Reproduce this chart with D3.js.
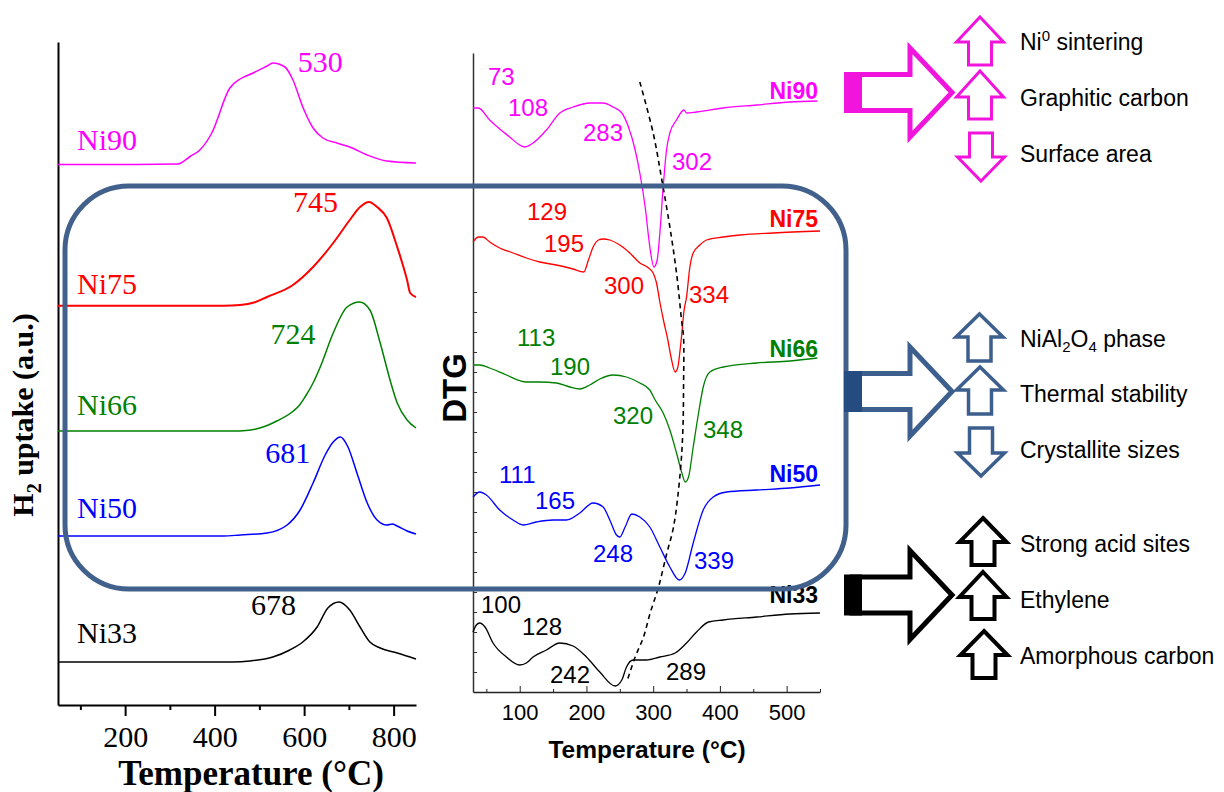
<!DOCTYPE html>
<html>
<head>
<meta charset="utf-8">
<script src="https://cdn.jsdelivr.net/npm/d3@7"></script>
<style>
  html, body { margin: 0; padding: 0; background: #fff; }
  svg { display: block; }
</style>
</head>
<body>
<svg id="fig" width="1224" height="792"></svg>
<script>
// ---------------- data ----------------
const samples = ["Ni90", "Ni75", "Ni66", "Ni50", "Ni33"];
const sampleColors = ["#ff00ff", "#ff0000", "#008000", "#0000ff", "#000000"];

// H2-TPR: reduction peak maxima (°C)
const tprPeaks = [530, 745, 724, 681, 678];
// vertical offsets of each trace (a.u.)
const tprOffsets = [540.5, 399.3, 274, 169, 43];
// H2 uptake above baseline: [temperature °C, signal a.u.]
const tprNi90 = [[50,0],[200,0],[318,0.5],[345,8],[367,14.5],[393,31],[434,76.5],[457,85.5],[486,91.5],[517,98.5],[530,101.5],[557,97.5],[575,84.5],[597,57.5],[620,36.5],[642,26.5],[673,21.5],[702,17.5],[741,9.5],[785,3.5],[850,1.5]];
const tprNi75 = [[50,0],[300,0],[420,0],[457,0.7],[490,3.5],[517,8.7],[575,20.7],[620,38.7],[665,62.7],[702,85.7],[725,98.7],[745,103.7],[763,98.7],[785,87.7],[808,58.7],[830,25.7],[837,12.7],[850,8.7]];
const tprNi66 = [[50,0],[300,0],[440,0],[470,0.5],[501,3],[539,10],[576,20],[590,26],[602,34],[620,48],[636,64],[665,98],[696,124],[724,129],[747,121],[770,88],[792,51],[808,28],[830,11],[850,3]];
const tprNi50 = [[50,0],[300,0],[420,0],[457,1],[517,3],[562,11],[591,26],[620,53],[647,81],[665,94],[681,99],[698,89],[718,63],[741,33],[763,16],[785,11],[797,12],[808,10],[830,5],[850,2]];
const tprNi33 = [[50,0],[300,0],[440,0],[479,1],[530,5],[568,12],[597,20],[629,35],[653,54],[678,60],[702,52],[725,35],[747,20],[770,14],[808,9],[850,3]];
const tprSeries = [tprNi90, tprNi75, tprNi66, tprNi50, tprNi33];
const tprTicks = [200, 400, 600, 800];
const tprMinorTicks = [100, 300, 500, 700];

// DTG of spent catalysts: [temperature °C, DTG a.u. (stacked)]
const dtgNi90 = [[30,584],[38,584],[55,572],[70,563],[85,555],[100,547],[108,545],[120,549],[140,562],[160,579],[180,585],[205,589],[225,589],[240,585],[253,579],[263,565],[273,542],[280,519],[288,485],[295,445],[301,425],[306,432],[310,459],[315,505],[320,542],[325,559],[335,572],[346,582],[350,579],[365,580],[405,584],[455,587],[505,590],[546,591]];
const dtgNi75 = [[30,450],[38,455],[45,455],[55,450],[70,444],[90,439],[110,434],[130,430],[155,427],[180,423],[196,420],[203,432],[210,445],[218,452],[225,453],[235,452],[250,447],[265,439],[280,429],[293,424],[300,419],[305,409],[310,390],[316,370],[322,352],[327,334],[333,320],[337,325],[340,340],[343,359],[346,380],[350,395],[355,425],[360,439],[370,447],[380,452],[405,455],[430,457],[480,459],[550,461]];
const dtgNi66 = [[30,327],[40,327],[55,324],[80,317],[110,310],[130,310],[155,309],[175,305],[190,303],[205,307],[220,313],[240,317],[260,315],[280,309],[295,302],[303,292],[315,279],[325,262],[335,239],[343,219],[348,210],[353,215],[360,245],[368,279],[375,305],[385,320],[405,325],[455,329],[505,331],[546,334]];
const dtgNi50 = [[30,195],[40,200],[50,197],[70,182],[90,172],[105,167],[125,170],[150,172],[170,172],[190,179],[210,189],[225,185],[235,172],[245,157],[250,155],[258,165],[268,178],[280,175],[295,165],[310,145],[325,125],[339,112],[348,119],[360,149],[375,182],[390,195],[410,200],[455,202],[505,204],[550,207]];
const dtgNi33 = [[30,60],[35,67],[40,69],[48,65],[60,49],[80,35],[100,27],[110,29],[120,35],[140,42],[160,49],[180,46],[200,35],[220,20],[243,6],[253,12],[260,25],[270,32],[290,32],[310,35],[333,39],[350,49],[365,60],[383,70],[405,72],[455,75],[505,78],[550,79]];
const dtgSeries = [dtgNi90, dtgNi75, dtgNi66, dtgNi50, dtgNi33];
// peak temperatures written beside each DTG trace (°C)
const dtgPeakText = [["73","108","283","302"],["129","195","300","334"],["113","190","320","348"],["111","165","248","339"],["100","128","242","289"]];
// shift of the main oxidation peak across the series
const dtgShiftGuide = [[280,610],[300,559],[313,512],[325,465],[335,419],[343,369],[345.5,355],[345.5,305],[344.5,262],[340.5,219],[330.5,165],[320.5,139],[308,105],[295.5,79],[285.5,55],[273,35],[260.5,10]];
const dtgTicks = [100, 200, 300, 400, 500];
const dtgMinorTicks = [50, 150, 250, 350, 450, 550];
const dtgYTicks = d3.range(20, 420, 20);

// property trends per catalyst group
const groupItems = [
  [["Ni", "0", " sintering", "up"], ["Graphitic carbon", "", "", "up"], ["Surface area", "", "", "down"]],
  [["NiAl2O4 phase", "", "", "up"], ["Thermal stability", "", "", "up"], ["Crystallite sizes", "", "", "down"]],
  [["Strong acid sites", "", "", "up"], ["Ethylene", "", "", "up"], ["Amorphous carbon", "", "", "up"]]
];
const groupColors = ["#f014dc", "#3d5f8e", "#000000"];
const groupFill = ["#f014dc", "#244c80", "#000000"];

// ---------------- drawing ----------------
const svg = d3.select("#fig");
const SERIF = "'Liberation Serif','Times New Roman',serif";
const SANS = "'Liberation Sans',Arial,sans-serif";

svg.append("rect").attr("width", 1224).attr("height", 792).attr("fill", "#fff");

// ===== left panel: H2-TPR =====
const xL = d3.scaleLinear().domain([50, 850]).range([58, 416]);
const yL = d3.scaleLinear().domain([0, 663]).range([705, 42]);
const gL = svg.append("g");

gL.append("g").attr("transform", "translate(58,0)")
  .call(d3.axisLeft(yL).tickValues([]).tickSizeOuter(0))
  .select(".domain").attr("stroke", "#000").attr("stroke-width", 2);

const axL = gL.append("g").attr("transform", "translate(0,705)")
  .call(d3.axisBottom(xL).tickValues(tprTicks).tickSize(11).tickSizeOuter(0).tickPadding(10));
axL.select(".domain").attr("stroke", "#000").attr("stroke-width", 2);
axL.selectAll(".tick line").attr("stroke", "#000").attr("stroke-width", 2);
axL.selectAll(".tick text").attr("font-family", SERIF).attr("font-size", 30).attr("fill", "#000");
const axL2 = gL.append("g").attr("transform", "translate(0,705)")
  .call(d3.axisBottom(xL).tickValues(tprMinorTicks).tickSize(5).tickFormat(""));
axL2.select(".domain").remove();
axL2.selectAll(".tick line").attr("stroke", "#000").attr("stroke-width", 2);

gL.append("text").attr("x", 251).attr("y", 785).attr("text-anchor", "middle")
  .attr("font-family", SERIF).attr("font-weight", "bold").attr("font-size", 35)
  .text("Temperature (°C)");

const yTitle = gL.append("text").attr("transform", "translate(33,415) rotate(-90)")
  .attr("text-anchor", "middle").attr("font-family", SERIF).attr("font-weight", "bold").attr("font-size", 30);
yTitle.append("tspan").text("H");
yTitle.append("tspan").attr("font-size", 20).attr("dy", 8).text("2");
yTitle.append("tspan").attr("dy", -8).text(" uptake (a.u.)");

const tprLine = (off) => d3.line().x(d => xL(d[0])).y(d => yL(d[1] + off)).curve(d3.curveMonotoneX);
tprSeries.forEach((s, i) => {
  gL.append("path").attr("d", tprLine(tprOffsets[i])(s))
    .attr("fill", "none").attr("stroke", sampleColors[i]).attr("stroke-width", i === 1 ? 2 : 1.5);
});

// sample names and peak maxima
const tprNameDy = [-14.5, -11.7, -16, -18, -19];
const tprPeakLabelPos = [[25, 9, "start"], [-31, 10, "end"], [-44, 42, "end"], [-30, 26, "end"], [-43, 13, "end"]];
samples.forEach((n, i) => {
  gL.append("text").attr("x", 77).attr("y", yL(tprOffsets[i]) + tprNameDy[i])
    .attr("font-family", SERIF).attr("font-size", 30).attr("fill", sampleColors[i]).text(n);
  const pk = tprSeries[i].find(d => d[0] === tprPeaks[i]);
  const p = tprPeakLabelPos[i];
  gL.append("text").attr("x", xL(pk[0]) + p[0]).attr("y", yL(pk[1] + tprOffsets[i]) + p[1])
    .attr("text-anchor", p[2]).attr("font-family", SERIF).attr("font-size", 30)
    .attr("fill", sampleColors[i]).text(tprPeaks[i]);
});

// ===== middle panel: DTG =====
const xM = d3.scaleLinear().domain([30, 550]).range([473, 820]);
const yM = d3.scaleLinear().domain([0, 639]).range([692, 53]);
const gM = svg.append("g");

const ayM = gM.append("g").attr("transform", "translate(473,0)")
  .call(d3.axisLeft(yM).tickValues(dtgYTicks).tickSize(-4).tickSizeOuter(0).tickFormat(""));
ayM.select(".domain").attr("stroke", "#333").attr("stroke-width", 1.5);
ayM.selectAll(".tick line").attr("stroke", "#333");

const axM = gM.append("g").attr("transform", "translate(0,692)")
  .call(d3.axisBottom(xM).tickValues(dtgTicks).tickSize(-6).tickSizeOuter(0).tickPadding(12));
axM.select(".domain").attr("stroke", "#222").attr("stroke-width", 1.5);
axM.selectAll(".tick line").attr("stroke", "#222");
axM.selectAll(".tick text").attr("font-family", SANS).attr("font-size", 22).attr("fill", "#000");
const axM2 = gM.append("g").attr("transform", "translate(0,692)")
  .call(d3.axisBottom(xM).tickValues(dtgMinorTicks).tickSize(-3).tickFormat(""));
axM2.select(".domain").remove();
axM2.selectAll(".tick line").attr("stroke", "#222");

gM.append("text").attr("x", 647).attr("y", 758).attr("text-anchor", "middle")
  .attr("font-family", SANS).attr("font-weight", "bold").attr("font-size", 24.5)
  .text("Temperature (°C)");
gM.append("text").attr("transform", "translate(466,388) rotate(-90)").attr("text-anchor", "middle")
  .attr("font-family", SANS).attr("font-weight", "bold").attr("font-size", 33).text("DTG");

const dtgLine = d3.line().x(d => xM(d[0])).y(d => yM(d[1])).curve(d3.curveMonotoneX);
dtgSeries.forEach((s, i) => {
  gM.append("path").attr("d", dtgLine(s)).attr("fill", "none")
    .attr("stroke", sampleColors[i]).attr("stroke-width", 1.3);
});

gM.append("path")
  .attr("d", d3.line().x(d => xM(d[0])).y(d => yM(d[1])).curve(d3.curveCatmullRom)(dtgShiftGuide))
  .attr("fill", "none").attr("stroke", "#000").attr("stroke-width", 1.6).attr("stroke-dasharray", "5,4");

// peak temperature labels
const dtgLabelPos = [
  [[488,85],[508,116],[583,141],[672,170]],
  [[527,220],[544,252],[604,294],[689,303]],
  [[517,346],[550,375],[613,424],[703,438]],
  [[499,483],[535,509],[593,562],[694,569]],
  [[481,613],[522,635],[550,683],[666,680]]
];
const dtgNameY = [99, 227, 357, 482, 603];
samples.forEach((n, i) => {
  dtgPeakText[i].forEach((t, j) => {
    gM.append("text").attr("x", dtgLabelPos[i][j][0]).attr("y", dtgLabelPos[i][j][1])
      .attr("font-family", SANS).attr("font-size", 24).attr("fill", sampleColors[i]).text(t);
  });
  gM.append("text").attr("x", 818).attr("y", dtgNameY[i]).attr("text-anchor", "end")
    .attr("font-family", SANS).attr("font-weight", "bold").attr("font-size", 23)
    .attr("fill", sampleColors[i]).text(n);
});

// ===== frame grouping Ni75, Ni66, Ni50 =====
svg.append("rect").attr("x", 65).attr("y", 186).attr("width", 781).attr("height", 403)
  .attr("rx", 64).attr("ry", 64).attr("fill", "none").attr("stroke", "#41608b").attr("stroke-width", 5);

// ===== trend arrows =====
const gR = svg.append("g");
const groupCY = [92.5, 391.5, 595];
const itemBase = [[50, 106, 162], [347, 402, 458], [552, 608, 664]];
const itemArrow = [
  [[980, 17, 42, 65], [980, 71, 97, 119], [981, 181, 157, 133]],
  [[979.5, 314, 337, 361], [980, 367, 390, 414], [981, 476, 453, 428]],
  [[983, 518, 542, 565], [983, 572, 597, 619], [984, 631, 655, 678]]
];
const smallStroke = [3, 3.5, 4];

function bigArrow(g, cy, stroke, fill) {
  const pts = [[852, cy - 18], [910, cy - 18], [910, cy - 44.5], [952, cy], [910, cy + 44.5], [910, cy + 18], [852, cy + 18]];
  g.append("path").attr("d", d3.line()(pts) + "Z").attr("fill", "#fff")
    .attr("stroke", stroke).attr("stroke-width", 5).attr("stroke-linejoin", "miter");
  g.append("rect").attr("x", 844).attr("y", cy - 20.5).attr("width", 18).attr("height", 41).attr("fill", fill);
}
// vertical block arrow: tip, head base, tail (works both up and down)
function smallArrow(g, a, stroke, sw) {
  const [cx, tip, base, tail] = a;
  const hw = 23.5, sh = 11.5;
  const pts = [[cx, tip], [cx + hw, base], [cx + sh, base], [cx + sh, tail], [cx - sh, tail], [cx - sh, base], [cx - hw, base]];
  g.append("path").attr("d", d3.line()(pts) + "Z").attr("fill", "#fff")
    .attr("stroke", stroke).attr("stroke-width", sw).attr("stroke-linejoin", "miter");
}

groupItems.forEach((items, gi) => {
  bigArrow(gR, groupCY[gi], groupColors[gi], groupFill[gi]);
  items.forEach((it, k) => {
    smallArrow(gR, itemArrow[gi][k], groupColors[gi], smallStroke[gi]);
    const t = gR.append("text").attr("x", 1020).attr("y", itemBase[gi][k])
      .attr("font-family", SANS).attr("font-size", 23).attr("fill", "#000");
    if (it[0] === "NiAl2O4 phase") {
      t.append("tspan").text("NiAl");
      t.append("tspan").attr("font-size", 15).attr("dy", 5).text("2");
      t.append("tspan").attr("dy", -5).text("O");
      t.append("tspan").attr("font-size", 15).attr("dy", 5).text("4");
      t.append("tspan").attr("dy", -5).text(" phase");
    } else if (it[1]) {
      t.append("tspan").text(it[0]);
      t.append("tspan").attr("font-size", 15).attr("dy", -9).text(it[1]);
      t.append("tspan").attr("dy", 9).text(it[2]);
    } else {
      t.text(it[0]);
    }
  });
});
</script>
</body>
</html>
